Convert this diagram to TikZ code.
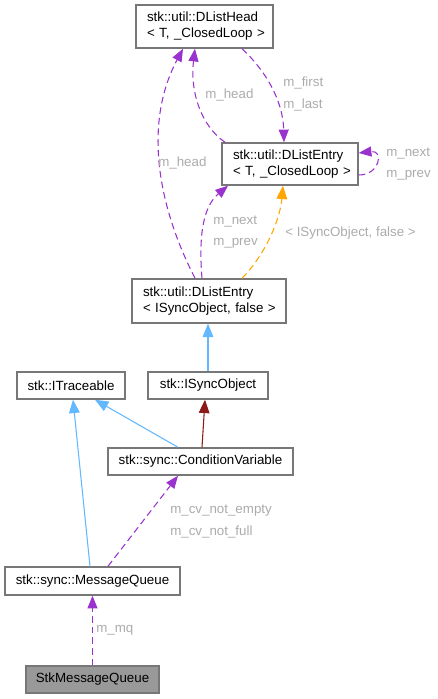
\documentclass[tikz,border=0pt]{standalone}
\usepackage{fontspec}
\setmainfont{Liberation Sans}
\usetikzlibrary{arrows.meta,calc}
\definecolor{epurple}{HTML}{9A32CD}
\definecolor{eblue}{HTML}{63B8FF}
\definecolor{eorange}{HTML}{FFA500}
\definecolor{ered}{HTML}{8B1A1A}
\definecolor{bborder}{HTML}{777777}
\definecolor{lblgray}{HTML}{ABABAB}
\definecolor{smqfill}{HTML}{999999}
\begin{document}
\begin{tikzpicture}[x=0.75pt,y=-0.75pt,
  box/.style={draw=bborder, fill=white, line width=1.1pt, inner ysep=0pt, font=\fontsize{10pt}{12pt}\selectfont},
  twoline/.style={box, align=left, inner xsep=8.25pt, text width=#1},
  oneline/.style={box, align=center, inner xsep=0pt, minimum height=20.25pt, minimum width=#1},
  lbl/.style={text=lblgray, font=\fontsize{10pt}{12pt}\selectfont, inner sep=0pt, anchor=west},
  purp/.style={draw=epurple, line width=0.8pt, dash pattern=on 5pt off 3pt, -{Triangle[length=9.5pt,width=7.5pt,fill=epurple]}},
  blue/.style={draw=eblue, line width=0.8pt, -{Triangle[length=10pt,width=8pt,fill=eblue]}},
  dred/.style={draw=ered, line width=0.8pt, -{Triangle[length=10pt,width=8pt,fill=ered]}},
  orng/.style={draw=eorange, line width=0.8pt, dash pattern=on 5pt off 3pt, -{Triangle[length=10pt,width=8pt,fill=eorange]}}
]
\useasboundingbox (0,0) rectangle (438,699);

% nodes
\node[twoline=86.25pt, minimum height=32.25pt] (head) at (204.5,26.5) {\mbox{stk::util::DListHead}\\\mbox{< T, \_ClosedLoop >}};
\node[twoline=85.5pt, minimum height=31.5pt] (entT) at (290,164) {\mbox{stk::util::DListEntry}\\\mbox{< T, \_ClosedLoop >}};
\node[twoline=99pt, minimum height=33pt] (entI) at (209,301) {\mbox{stk::util::DListEntry}\\\mbox{< ISyncObject, false >}};
\node[oneline=81pt] (itr) at (71,385.5) {stk::ITraceable};
\node[oneline=90pt] (iso) at (208,385.5) {stk::ISyncObject};
\node[oneline=138.75pt] (cv) at (200.5,461.5) {stk::sync::ConditionVariable};
\node[oneline=131.25pt, minimum height=21pt] (mq) at (92.5,581) {stk::sync::MessageQueue};
\node[oneline=99.75pt, fill=smqfill] (smq) at (92.5,679.5) {StkMessageQueue};

% edges
\draw[purp] ($(entT.north)+(-65,0)$) .. controls (200,125) and (190,90) .. ($(head.south)+(-9.5,0)$);
\draw[purp] ($(head.south)+(37.5,0)$) .. controls (265,70) and (283,100) .. ($(entT.north)+(-6,0)$);
\draw[purp] ($(entT.east)+(0,11)$) .. controls (380,175) and (384,150) .. ($(entT.east)+(0,-11)$);
\draw[purp] ($(entI.north)+(-14,0)$) .. controls (155,200) and (145,120) .. ($(head.south)+(-21.5,0)$);
\draw[purp] ($(entI.north)+(-7,0)$) .. controls (198,230) and (205,205) .. ($(entT.south)+(-62,0)$);
\draw[orng] ($(entI.north)+(33,0)$) .. controls (265,255) and (280,220) .. ($(entT.south)+(-7,0)$);
\draw[blue] (iso.north) -- (iso.north |- entI.south);
\draw[blue] ($(cv.north)+(-22.5,0)$) -- ($(itr.south)+(24,0)$);
\draw[dred] ($(cv.north)+(1.5,0)$) -- ($(iso.south)+(-3,0)$);
\draw[blue] ($(mq.north)+(-2.5,0)$) -- ($(itr.south)+(2,0)$);
\draw[purp] ($(mq.north)+(15.5,0)$) -- ($(cv.south)+(-22.5,0)$);
\draw[purp] (smq.north) -- (mq.south);

% labels
\node[lbl] (l1) at (205,95) {m\_head};
\node[lbl] (l2) at (283,83) {m\_first};
\node[lbl] (l3) at (283,105) {m\_last};
\node[lbl] (l4) at (386,154) {m\_next};
\node[lbl] (l5) at (386,175) {m\_prev};
\node[lbl] (l6) at (158,163) {m\_head};
\node[lbl] (l7) at (213,222) {m\_next};
\node[lbl] (l8) at (213,243) {m\_prev};
\node[lbl] (l9) at (285,233) {< ISyncObject, false >};
\node[lbl] (l10) at (170,511) {m\_cv\_not\_empty};
\node[lbl] (l11) at (170,532) {m\_cv\_not\_full};
\node[lbl] (l12) at (96,630) {m\_mq};
\end{tikzpicture}
\end{document}
